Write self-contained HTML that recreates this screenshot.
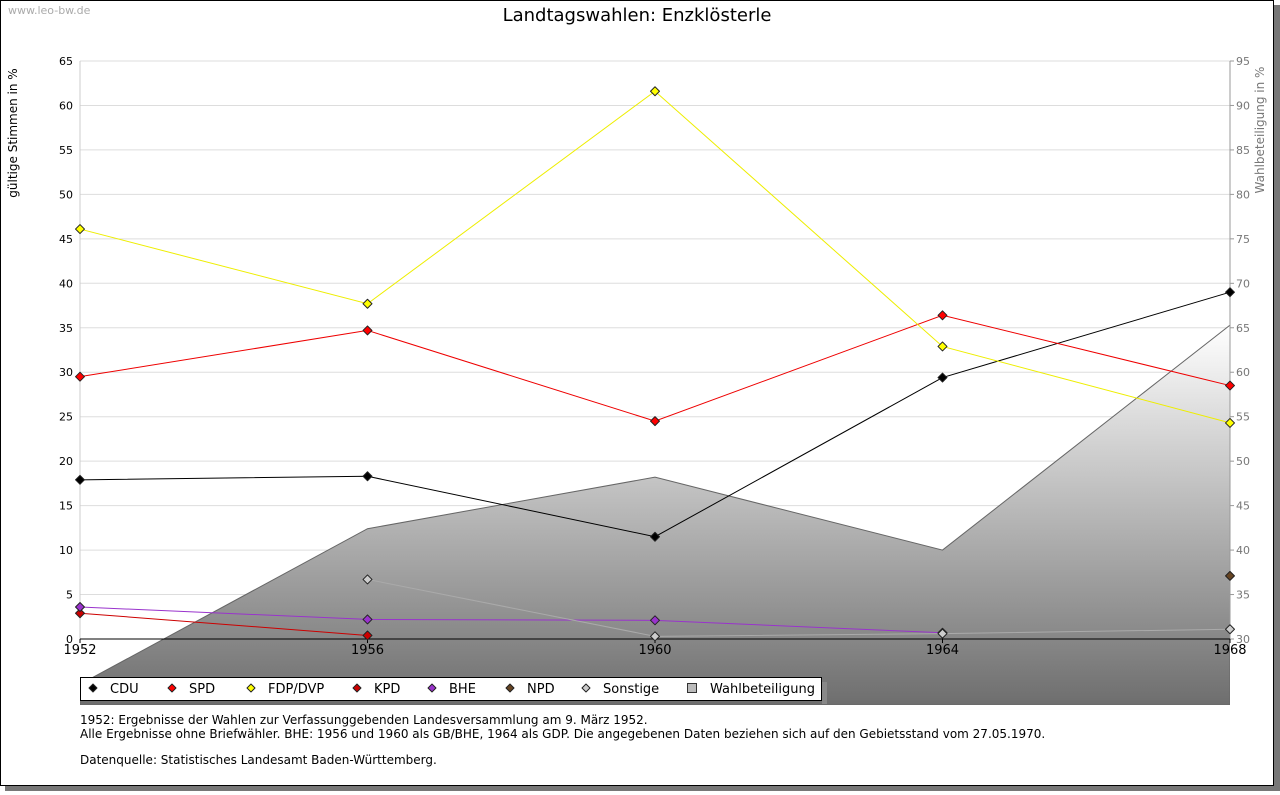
<!DOCTYPE html>
<html><head><meta charset="utf-8"><style>
body{margin:0;background:#fff;font-family:"DejaVu Sans",sans-serif}
</style></head><body>
<svg width="1280" height="791" xmlns="http://www.w3.org/2000/svg" font-family="DejaVu Sans, sans-serif">
<defs>
<linearGradient id="g" x1="0" y1="0" x2="0" y2="1">
<stop offset="0" stop-color="#ffffff"/><stop offset="1" stop-color="#6e6e6e"/></linearGradient>
<clipPath id="clip"><rect x="80" y="40" width="1150" height="665"/></clipPath>
</defs>
<rect x="5" y="5" width="1275" height="786" fill="#777"/>
<rect x="0.5" y="0.5" width="1273" height="785" fill="#fff" stroke="#000"/>
<text x="8" y="14" font-size="11" fill="#aaa">www.leo-bw.de</text>
<text x="637" y="21" font-size="18" text-anchor="middle">Landtagswahlen: Enzklösterle</text>
<g id="grid"></g>
<g id="area"></g>
<g id="axes"></g>
<g id="series"></g>
<g id="legend"></g>
<text x="80" y="724" font-size="12">1952: Ergebnisse der Wahlen zur Verfassunggebenden Landesversammlung am 9. März 1952.</text>
<text x="80" y="738" font-size="12">Alle Ergebnisse ohne Briefwähler. BHE: 1956 und 1960 als GB/BHE, 1964 als GDP. Die angegebenen Daten beziehen sich auf den Gebietsstand vom 27.05.1970.</text>
<text x="80" y="764" font-size="12">Datenquelle: Statistisches Landesamt Baden-Württemberg.</text>
</svg>
<script>
const years=[1952,1956,1960,1964,1968];
const leftTicks=[0,5,10,15,20,25,30,35,40,45,50,55,60,65];
const rightTicks=[30,35,40,45,50,55,60,65,70,75,80,85,90,95];
const cdu=[17.9,18.3,11.5,29.4,39.0];
const spd=[29.5,34.7,24.5,36.4,28.5];
const fdp=[46.1,37.7,61.6,32.9,24.3];
const kpd=[2.9,0.4,null,null,null];
const bhe=[3.6,2.2,2.1,0.7,null];
const npd=[null,null,null,null,7.1];
const sonstige=[null,6.7,0.3,0.6,1.1];
const turnout=[24.9,42.4,48.2,40.0,65.3];
const NS="http://www.w3.org/2000/svg";
const X0=80,X1=1230,Y0=639,Y1=61;
const x=y=>X0+(y-1952)/(1968-1952)*(X1-X0);
const yl=v=>Y0-v/65*(Y0-Y1);
const yr=v=>Y0-(v-30)/65*(Y0-Y1);
function mk(tag,attrs,parent,txt){const e=document.createElementNS(NS,tag);for(const k in attrs)e.setAttribute(k,attrs[k]);if(txt!==undefined)e.textContent=txt;document.getElementById(parent).appendChild(e);return e;}
function dia(cx,cy,r){return `M${cx},${cy-r} L${cx+r},${cy} L${cx},${cy+r} L${cx-r},${cy} Z`;}
leftTicks.forEach(t=>{
 if(t>0){const l=mk('line',{x1:X0,x2:X1,y1:yl(t),y2:yl(t),stroke:'#ddd'},'grid');
 
 }
 const tx=mk('text',{x:73,y:yl(t)+4,'font-size':11,'text-anchor':'end'},'axes',t);
 
 
});
rightTicks.forEach(t=>{
 const tx=mk('text',{x:1236,y:yr(t)+4,'font-size':11,fill:'#777'},'axes',t);
 
 
 mk('line',{x1:X1,x2:X1+4,y1:yr(t),y2:yr(t),stroke:'#999'},'axes');
});
let d='M'+x(years[0])+','+yr(turnout[0]);
years.forEach((yy,i)=>{d+=' L'+x(yy)+','+yr(turnout[i]);});
d+=' L'+X1+',705 L'+X0+',705 Z';
const ar=mk('path',{d:d,fill:'url(#g)',stroke:'#666','clip-path':'url(#clip)'},'area');


mk('line',{x1:X0,x2:X0,y1:Y1,y2:Y0,stroke:'#ccc'},'axes');
mk('line',{x1:X1,x2:X1,y1:Y1,y2:Y0,stroke:'#999'},'axes');
mk('line',{x1:X0,x2:X1,y1:Y0,y2:Y0,stroke:'#000'},'axes');
years.forEach(yy=>{const t=mk('text',{x:x(yy),y:654,'font-size':13,'text-anchor':'middle'},'axes',yy);
 
 
 mk('line',{x1:x(yy),x2:x(yy),y1:Y0,y2:Y0+4,stroke:'#000'},'axes');});
const ya=mk('text',{transform:'translate(17,133) rotate(-90)','font-size':12,'text-anchor':'middle'},'axes','gültige Stimmen in %');


const yb=mk('text',{transform:'translate1264,130) rotate(-90)'.replace('translate','translate('),'font-size':12,'text-anchor':'middle',fill:'#777'},'axes','Wahlbeteiligung in %');


const series=[['CDU',cdu,'#000','#000'],['SPD',spd,'#f00','#e00'],['FDP/DVP',fdp,'#ff0','#ee0'],['KPD',kpd,'#c00','#c00'],['BHE',bhe,'#93c','#93c'],['NPD',npd,'#642','#642'],['Sonstige',sonstige,'#ccc','#aaa']];
series.forEach(([n,vals,fill,stroke])=>{
 let pts=[];vals.forEach((v,i)=>{if(v!==null)pts.push([x(years[i]),yl(v)]);});
 if(pts.length>1){const p=mk('polyline',{points:pts.map(p=>p.join(',')).join(' '),fill:'none',stroke:stroke,'stroke-width':1},'series');
 
 }
 pts.forEach(p=>{const c=mk('path',{d:dia(p[0],p[1],4.5),fill:fill,stroke:'#222','stroke-width':1,'stroke-linejoin':'round'},'series');
 
 });
});
mk('rect',{x:80.5,y:677.5,width:741,height:23,fill:'#fff',stroke:'#000'},'legend');
mk('rect',{x:822,y:682,width:5,height:22,fill:'#888'},'legend');
const lx=[93,172,251,357,432,510,586];
series.forEach(([n,vals,fill],i)=>{
 const g=mk('path',{d:dia(lx[i],688,4),fill:fill,stroke:'#222','stroke-linejoin':'round'},'legend');
 
 
 const t=mk('text',{x:lx[i]+17,y:693,'font-size':13},'legend',n);
 
 
});
mk('rect',{x:687.5,y:683.5,width:9,height:9,fill:'#bbb',stroke:'#333'},'legend');
const tw=mk('text',{x:710,y:693,'font-size':13},'legend','Wahlbeteiligung');


</script>
</body></html>
